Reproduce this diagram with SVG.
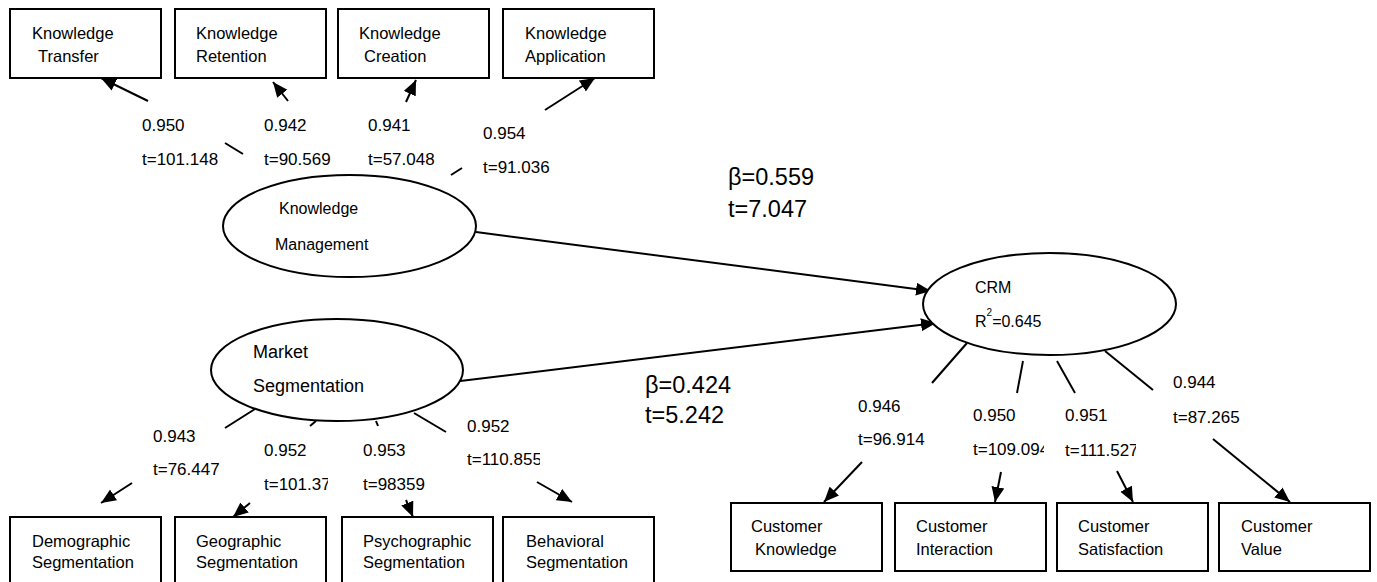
<svg xmlns="http://www.w3.org/2000/svg" width="1377" height="582" viewBox="0 0 1377 582">
<defs>
<style>
.box{fill:#fff;stroke:#000;stroke-width:2}
.ell{fill:#fff;stroke:#000;stroke-width:2}
.t{font-family:"Liberation Sans",Arial,sans-serif;font-size:17px;fill:#000}
.n{font-family:"Liberation Sans",Arial,sans-serif;font-size:16.5px;fill:#000}
.e{font-family:"Liberation Sans",Arial,sans-serif;font-size:16px;fill:#000}
.m{font-family:"Liberation Sans",Arial,sans-serif;font-size:18px;fill:#000}
.b{font-family:"Liberation Sans",Arial,sans-serif;font-size:23.5px;fill:#000}
.c{stroke:#000;stroke-width:2;fill:none}
.a{stroke:#000;stroke-width:2;fill:none;marker-end:url(#ah)}
</style>
<marker id="ah" markerUnits="userSpaceOnUse" markerWidth="16" markerHeight="14" refX="15" refY="7" orient="auto" viewBox="0 0 16 14"><path d="M0,0.5 L15,7 L0,13.5 z" fill="#000"/></marker>
<clipPath id="clipA"><rect x="255" y="470" width="73" height="30"/></clipPath>
<clipPath id="clipB"><rect x="460" y="445" width="80" height="30"/></clipPath>
<clipPath id="clipC"><rect x="965" y="435" width="79" height="30"/></clipPath>
<clipPath id="clipD"><rect x="1060" y="435" width="76" height="30"/></clipPath>
</defs>
<rect x="0" y="0" width="1377" height="582" fill="#fff"/>

<g id="connectors">
  <line class="a" x1="148" y1="101" x2="101" y2="78"/>
  <line class="a" x1="288" y1="101" x2="273" y2="82"/>
  <line class="a" x1="406" y1="102" x2="416" y2="80"/>
  <line class="a" x1="545" y1="110" x2="595" y2="78"/>
  <line class="c" x1="225" y1="143" x2="243" y2="154"/>
  <line class="c" x1="451" y1="175" x2="462" y2="168"/>

  <line class="a" x1="476" y1="232" x2="931" y2="291"/>
  <line class="a" x1="452" y1="382" x2="936" y2="323"/>

  <line class="c" x1="225" y1="428" x2="255" y2="409"/>
  <line class="c" x1="310" y1="426" x2="316" y2="421"/>
  <line class="c" x1="376" y1="421" x2="378" y2="426"/>
  <line class="c" x1="414" y1="413" x2="446" y2="432"/>
  <line class="a" x1="132" y1="483" x2="101" y2="503"/>
  <line class="a" x1="250" y1="503" x2="233" y2="517"/>
  <line class="a" x1="406" y1="500" x2="413" y2="517"/>
  <line class="a" x1="537" y1="482" x2="572" y2="502"/>

  <line class="c" x1="967" y1="343" x2="932" y2="383"/>
  <line class="c" x1="1023" y1="361" x2="1017" y2="393"/>
  <line class="c" x1="1057" y1="361" x2="1075" y2="393"/>
  <line class="c" x1="1105" y1="351" x2="1153" y2="390"/>
  <line class="a" x1="862" y1="462" x2="824" y2="502"/>
  <line class="a" x1="1001" y1="472" x2="995" y2="502"/>
  <line class="a" x1="1117" y1="471" x2="1133" y2="502"/>
  <line class="a" x1="1213" y1="439" x2="1290" y2="502"/>
</g>

<g id="labels">
  <text class="t" x="142" y="131">0.950</text>
  <text class="t" x="142" y="165">t=101.148</text>
  <text class="t" x="264" y="131">0.942</text>
  <text class="t" x="264" y="165">t=90.569</text>
  <text class="t" x="368" y="131">0.941</text>
  <text class="t" x="368" y="165">t=57.048</text>
  <text class="t" x="483" y="139">0.954</text>
  <text class="t" x="483" y="173">t=91.036</text>

  <text class="b" x="728" y="185">β=0.559</text>
  <text class="b" x="728" y="217">t=7.047</text>
  <text class="b" x="645" y="393">β=0.424</text>
  <text class="b" x="645" y="423">t=5.242</text>

  <text class="t" x="153" y="442">0.943</text>
  <text class="t" x="153" y="475">t=76.447</text>
  <text class="t" x="264" y="456">0.952</text>
  <text class="t" x="264" y="490" clip-path="url(#clipA)">t=101.37</text>
  <text class="t" x="363" y="456">0.953</text>
  <text class="t" x="363" y="490">t=98359</text>
  <text class="t" x="467" y="432">0.952</text>
  <text class="t" x="467" y="465" clip-path="url(#clipB)">t=110.855</text>

  <text class="t" x="858" y="412">0.946</text>
  <text class="t" x="858" y="445">t=96.914</text>
  <text class="t" x="973" y="421">0.950</text>
  <text class="t" x="973" y="455" clip-path="url(#clipC)">t=109.094</text>
  <text class="t" x="1065" y="421">0.951</text>
  <text class="t" x="1065" y="456" clip-path="url(#clipD)">t=111.527</text>
  <text class="t" x="1173" y="388">0.944</text>
  <text class="t" x="1173" y="423">t=87.265</text>
</g>

<g id="kt"><rect class="box" x="10" y="9" width="151" height="69"/><text class="n" x="32" y="39">Knowledge</text><text class="n" x="38" y="62">Transfer</text></g>
<g id="kr"><rect class="box" x="175" y="9" width="151" height="69"/><text class="n" x="196" y="39">Knowledge</text><text class="n" x="196" y="62">Retention</text></g>
<g id="kc"><rect class="box" x="338" y="9" width="151" height="69"/><text class="n" x="359" y="39">Knowledge</text><text class="n" x="364" y="62">Creation</text></g>
<g id="ka"><rect class="box" x="503" y="9" width="151" height="69"/><text class="n" x="525" y="39">Knowledge</text><text class="n" x="525" y="62">Application</text></g>

<g id="km"><ellipse class="ell" cx="349.5" cy="226" rx="126.5" ry="51"/><text class="e" x="279" y="214">Knowledge</text><text class="e" x="275" y="250">Management</text></g>
<g id="ms"><ellipse class="ell" cx="337" cy="370" rx="126" ry="51"/><text class="m" x="253" y="358">Market</text><text class="m" x="253" y="392">Segmentation</text></g>
<g id="crm"><ellipse class="ell" cx="1049.5" cy="304" rx="126.5" ry="51"/><text class="e" x="975" y="293">CRM</text><text class="e" x="975" y="327">R<tspan font-size="10" dy="-11">2</tspan><tspan dy="11">=0.645</tspan></text></g>

<g id="ds"><rect class="box" x="10" y="517" width="151" height="70"/><text class="n" x="32" y="547">Demographic</text><text class="n" x="32" y="568">Segmentation</text></g>
<g id="gs"><rect class="box" x="175" y="517" width="151" height="70"/><text class="n" x="196" y="547">Geographic</text><text class="n" x="196" y="568">Segmentation</text></g>
<g id="ps"><rect class="box" x="342" y="517" width="151" height="70"/><text class="n" x="363" y="547">Psychographic</text><text class="n" x="363" y="568">Segmentation</text></g>
<g id="bs"><rect class="box" x="503" y="517" width="151" height="70"/><text class="n" x="526" y="547">Behavioral</text><text class="n" x="526" y="568">Segmentation</text></g>

<g id="ck"><rect class="box" x="731" y="503" width="151" height="68"/><text class="n" x="751" y="532">Customer</text><text class="n" x="755" y="555">Knowledge</text></g>
<g id="ci"><rect class="box" x="895" y="503" width="151" height="68"/><text class="n" x="916" y="532">Customer</text><text class="n" x="916" y="555">Interaction</text></g>
<g id="cs"><rect class="box" x="1057" y="503" width="151" height="68"/><text class="n" x="1078" y="532">Customer</text><text class="n" x="1078" y="555">Satisfaction</text></g>
<g id="cv"><rect class="box" x="1219" y="503" width="151" height="68"/><text class="n" x="1241" y="532">Customer</text><text class="n" x="1241" y="555">Value</text></g>
</svg>
